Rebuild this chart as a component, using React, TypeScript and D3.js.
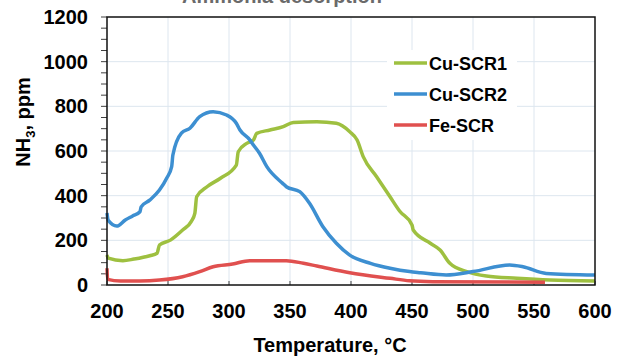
import React from 'react';
import * as d3 from 'd3';

// NH3 desorption profiles: [temperature °C, NH3 ppm]
const cuScr1: [number, number][] = [
  [200, 134], [201, 120], [213, 109], [222, 116], [235, 131], [241, 142], [243, 179],
  [252, 201], [262, 246], [269, 284], [272, 321], [273.5, 395], [282, 440], [293, 478],
  [306, 537], [307.6, 597], [314.5, 634], [320, 649], [322.7, 679], [333.6, 694],
  [344.5, 709], [352.7, 728], [372, 731], [388, 724], [399, 686], [405, 649], [410, 575],
  [421, 485], [432, 395], [440, 330], [450, 269], [451, 246], [465, 187], [473, 157],
  [481, 97], [495, 60], [511, 40], [536, 30], [563, 22], [600, 18],
];

const cuScr2: [number, number][] = [
  [200, 322], [201, 290], [208, 264], [215, 291], [221, 309], [227, 328], [228, 350],
  [235, 380], [243, 425], [249, 479], [253, 530], [254, 582], [261, 680], [268, 702],
  [276, 754], [287, 776], [298, 761], [306, 724], [309, 694], [317, 650], [320, 627],
  [325, 590], [331, 530], [344, 455], [347, 440], [358, 418], [366, 366], [377, 261],
  [388, 187], [399, 134], [416, 97], [432, 75], [448, 60], [457, 55], [478, 45],
  [500, 60], [530, 90], [541, 82], [560, 52], [600, 45],
];

const feScr: [number, number][] = [
  [200, 75], [200.5, 25], [211, 18], [227, 18], [243, 22], [262, 37], [276, 60],
  [287, 82], [303, 94], [317, 109], [347, 109], [361, 97], [372, 85], [399, 55],
  [432, 30], [448, 19], [467, 15], [559, 12],
];

const seriesNames = ['Cu-SCR1', 'Cu-SCR2', 'Fe-SCR'];
const seriesData = [cuScr1, cuScr2, feScr];
const seriesColors = ['#9EC040', '#3D8FD1', '#E0504F'];

const xTicks = [200, 250, 300, 350, 400, 450, 500, 550, 600];
const yTicks = [0, 200, 400, 600, 800, 1000, 1200];
const yMinorTicks = d3.range(0, 1201, 50);

const W = 626;
const H = 356;
const plot = { left: 107, right: 595, top: 17, bottom: 285 };

const App: React.FC = () => {
  const x = d3.scaleLinear().domain([200, 600]).range([plot.left, plot.right]);
  const y = d3.scaleLinear().domain([0, 1200]).range([plot.bottom, plot.top]);
  const line = d3.line<[number, number]>()
    .x(d => x(d[0]))
    .y(d => y(d[1]))
    .curve(d3.curveMonotoneX);
  const font = 'Arial, "Liberation Sans", sans-serif';

  return (
    <svg width={W} height={H} style={{ position: 'absolute', left: 0, top: 0, background: '#fff' }} fontFamily={font}>
      {/* title, mostly cut off at the top like the source image */}
      <text x={282} y={3} textAnchor="middle" fontSize={20} fontWeight="bold" fill="#6a6a6a">
        Ammonia desorption
      </text>

      {/* grid */}
      {xTicks.slice(1, -1).map(t => (
        <line key={'gx' + t} x1={x(t)} x2={x(t)} y1={plot.top} y2={plot.bottom} stroke="#DDE6EF" strokeWidth={1} />
      ))}
      {yTicks.slice(1, -1).map(t => (
        <line key={'gy' + t} x1={plot.left} x2={plot.right} y1={y(t)} y2={y(t)} stroke="#DDE6EF" strokeWidth={1} />
      ))}

      {/* y ticks (outside) */}
      {yMinorTicks.map(t => (
        <line key={'ty' + t} x1={plot.left - 6} x2={plot.left} y1={y(t)} y2={y(t)} stroke="#404040" strokeWidth={1} />
      ))}
      {/* x ticks (inside) */}
      {xTicks.map(t => (
        <line key={'tx' + t} x1={x(t)} x2={x(t)} y1={plot.bottom} y2={plot.bottom - 4} stroke="#404040" strokeWidth={1} />
      ))}

      {/* series */}
      {seriesData.map((d, i) => (
        <path key={seriesNames[i]} d={line(d) || ''} fill="none" stroke={seriesColors[i]}
          strokeWidth={3.5} strokeLinejoin="round" strokeLinecap="butt" />
      ))}

      {/* plot frame */}
      <rect x={plot.left} y={plot.top} width={plot.right - plot.left} height={plot.bottom - plot.top}
        fill="none" stroke="#111" strokeWidth={1.5} />

      {/* tick labels */}
      {yTicks.map(t => (
        <text key={'ly' + t} x={88} y={y(t) + 7} textAnchor="end" fontSize={20} fontWeight="bold" fill="#000">
          {t}
        </text>
      ))}
      {xTicks.map(t => (
        <text key={'lx' + t} x={x(t)} y={318} textAnchor="middle" fontSize={20} fontWeight="bold" fill="#000">
          {t}
        </text>
      ))}

      {/* axis titles */}
      <text x={330} y={352} textAnchor="middle" fontSize={20} fontWeight="bold" fill="#000">
        Temperature, °C
      </text>
      <text transform="translate(30,122) rotate(-90)" textAnchor="middle" fontSize={20} fontWeight="bold" fill="#000">
        NH<tspan fontSize={13} dy={5}>3</tspan><tspan dy={-5}>, ppm</tspan>
      </text>

      {/* legend */}
      <rect x={387} y={50} width={130} height={90} fill="#fff" />
      {seriesNames.map((n, i) => (
        <g key={'lg' + n} transform={`translate(0, ${63 + i * 31})`}>
          <line x1={394} x2={427} y1={0} y2={0} stroke={seriesColors[i]} strokeWidth={3.5} />
          <text x={429} y={7} fontSize={18} fontWeight="bold" fill="#000">{n}</text>
        </g>
      ))}
    </svg>
  );
};

export default App;
